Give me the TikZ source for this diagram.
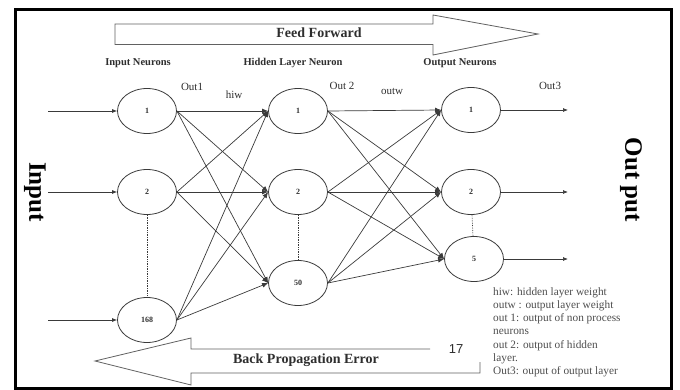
\documentclass[tikz,border=0pt]{standalone}
\usepackage{fontspec}
\setmainfont{Liberation Serif}
\newfontfamily\numfont{Liberation Sans}
\usetikzlibrary{shapes.geometric,arrows.meta}
\definecolor{ink}{HTML}{3A3A3A}
\definecolor{txt}{HTML}{2E2E2E}
\tikzset{
  neuron/.style={ellipse,draw=ink,line width=0.8pt,minimum width=59pt,minimum height=45pt,inner sep=0pt,font=\fontsize{8}{9}\selectfont\bfseries,text=txt},
  conn/.style={draw=ink,line width=0.7pt,-{Latex[length=6pt,width=5pt]}},
  inarrow/.style={draw=ink,line width=0.7pt,-{Latex[length=5pt,width=4pt]}},
  dotline/.style={draw=ink,line width=0.7pt,densely dotted},
  bigarrow/.style={draw=ink!80,line width=0.8pt,fill=white},
  lbl/.style={font=\fontsize{11}{12}\selectfont,text=txt,inner sep=0pt},
  head/.style={font=\fontsize{10.5}{12}\selectfont\bfseries,text=txt,inner sep=0pt},
  arrtext/.style={font=\fontsize{14}{15}\selectfont\bfseries,text=txt,inner sep=0pt},
  side/.style={font=\fontsize{25}{26}\selectfont\bfseries,text=black,inner sep=0pt,rotate=-90},
}
\begin{document}
\begin{tikzpicture}[x=1pt,y=-1pt]
\useasboundingbox (0,0) rectangle (680,390);
% frame
\draw[line width=3pt,black] (15,10) rectangle (671,388);
% feed forward arrow
\draw[bigarrow] (115,24) -- (433,24) -- (433,15) -- (538,34) -- (433,55) -- (433,44.5) -- (115,44.5) -- cycle;
\node[arrtext] (ff) at (319,33) {Feed Forward};
% back propagation arrow
\draw[bigarrow] (430,349) -- (191,349) -- (191,338) -- (95,361) -- (191,385) -- (191,373) -- (480,373) -- (480,362);
\node[arrtext] (bp) at (306,360) {Back Propagation Error};
\node[font=\numfont\fontsize{13}{14}\selectfont,text=txt,inner sep=0pt] (pg) at (456,349) {17};
% headings
\node[head] (hin) at (138,63) {Input Neurons};
\node[head] (hhid) at (293,63) {Hidden Layer Neuron};
\node[head] (hout) at (460,63) {Output Neurons};
% side labels
\node[side] (sin) at (35,192) {Input};
\node[side] (sout) at (631,180) {Out put};
% neurons
\node[neuron] (i1) at (147,111) {1};
\node[neuron] (i2) at (147,192) {2};
\node[neuron] (i3) at (147,320) {168};
\node[neuron] (h1) at (298,111) {1};
\node[neuron] (h2) at (298,192) {2};
\node[neuron] (h3) at (298,283) {50};
\node[neuron] (o1) at (471,110) {1};
\node[neuron] (o2) at (471,192) {2};
\node[neuron] (o3) at (474,259) {5};
% dotted links
\draw[dotline] (i2) -- (i3);
\draw[dotline] (h2) -- (h3);
\draw[dotline] (o2) -- (o3);
% inputs
\coordinate (a1) at (48,111);
\coordinate (a2) at (48,192);
\coordinate (a3) at (48,320);
\draw[inarrow] (a1) -- (i1.west);
\draw[inarrow] (a2) -- (i2.west);
\draw[inarrow] (a3) -- (i3.west);
% outputs
\coordinate (b1) at (568,110);
\coordinate (b2) at (568,192);
\coordinate (b3) at (568,259);
\draw[inarrow] (o1.east) -- (b1);
\draw[inarrow] (o2.east) -- (b2);
\draw[inarrow] (o3.east) -- (b3);
% connections
\foreach \s in {i1,i2,i3}{\foreach \t in {h1,h2,h3}{\draw[conn] (\s.east) -- (\t.west);}}
\foreach \s in {h1,h2,h3}{\foreach \t in {o1,o2,o3}{\draw[conn] (\s.east) -- (\t.west);}}
% small labels
\node[lbl] (l1) at (192,87) {Out1};
\node[lbl] (l2) at (234,95) {hiw};
\node[lbl] (l3) at (342,86) {Out 2};
\node[lbl] (l4) at (392,91) {outw};
\node[lbl] (l5) at (550,86) {Out3};
% legend
\node[anchor=north west,align=left,inner sep=0pt,text=txt!85,font=\fontsize{11.3}{13.3}\selectfont] (leg) at (493,287)
{hiw: hidden layer weight\\outw : output layer weight\\out 1: output of non process\\neurons\\out 2: output of hidden\\layer.\\Out3: ouput of output layer};
\end{tikzpicture}
\end{document}
